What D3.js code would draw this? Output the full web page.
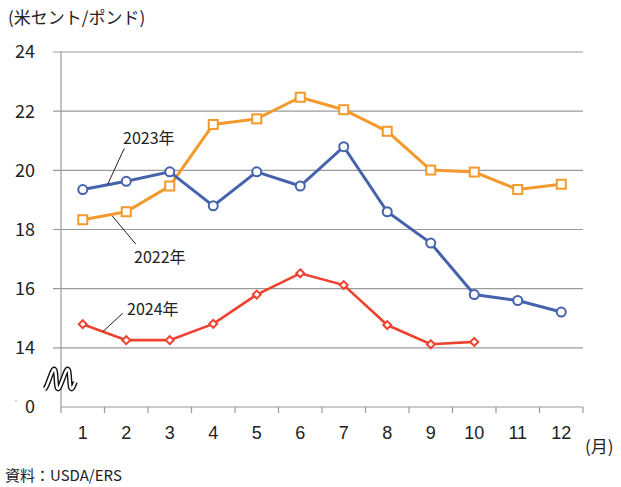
<!DOCTYPE html>
<html>
<head>
<meta charset="utf-8">
<script src="https://cdn.jsdelivr.net/npm/d3@7"></script>
<style>
  body { margin: 0; background: #fff; }
  text { font-family: "Liberation Sans Narrow", "Noto Sans CJK JP", sans-serif; fill: #222; }
</style>
</head>
<body>
<svg id="chart" width="621" height="487"></svg>
<script>
// data
var months = ['1','2','3','4','5','6','7','8','9','10','11','12'];
var y2022 = [18.33, 18.6, 19.47, 21.55, 21.74, 22.47, 22.05, 21.32, 20.01, 19.94, 19.35, 19.53];
var y2023 = [19.35, 19.63, 19.95, 18.8, 19.95, 19.47, 20.8, 18.6, 17.54, 15.8, 15.6, 15.21];
var y2024 = [14.8, 14.26, 14.26, 14.81, 15.8, 16.52, 16.12, 14.77, 14.12, 14.2];
var yTicks = [14, 16, 18, 20, 22, 24];

var svg = d3.select('#chart');
var plotL = 61, plotR = 583, plotT = 52, plotB = 407;

var x = d3.scaleBand().domain(months).range([plotL, plotR]);
// broken axis: the bottom of the plot stands for 0, drawn at the place of 12
var y = d3.scaleLinear().domain([12, 24]).range([plotB, plotT]);

// grid
svg.append('g').selectAll('line')
  .data(yTicks)
  .enter().append('line')
  .attr('x1', plotL - 8).attr('x2', plotR)
  .attr('y1', function(d) { return y(d); })
  .attr('y2', function(d) { return y(d); })
  .attr('stroke', '#9a9a9a').attr('stroke-width', 1.2);

// x axis
var xAxis = svg.append('g')
  .attr('transform', 'translate(0,' + plotB + ')')
  .call(d3.axisBottom(x).tickSize(0).tickPadding(19));
xAxis.select('.domain').attr('stroke', '#9a9a9a').attr('stroke-width', 1.2)
  .attr('d', 'M' + plotL + ',0H' + plotR);
xAxis.selectAll('text').style('font-size', '18px').attr('fill', '#222')
  .style('font-family', '"Liberation Sans Narrow", sans-serif');
svg.append('g').selectAll('line')
  .data(d3.range(13))
  .enter().append('line')
  .attr('x1', function(i) { return plotL + i * x.step(); })
  .attr('x2', function(i) { return plotL + i * x.step(); })
  .attr('y1', plotB).attr('y2', plotB + 6)
  .attr('stroke', '#9a9a9a').attr('stroke-width', 1.2);

// y axis line
svg.append('line')
  .attr('x1', plotL).attr('x2', plotL).attr('y1', plotT).attr('y2', plotB)
  .attr('stroke', '#9a9a9a').attr('stroke-width', 1.2);

svg.append('g').selectAll('text')
  .data(yTicks)
  .enter().append('text')
  .attr('x', 35).attr('y', function(d) { return y(d); })
  .attr('dy', '0.36em').attr('text-anchor', 'end')
  .style('font-size', '18px')
  .text(function(d) { return d; });
svg.append('text')
  .attr('x', 35).attr('y', y(12)).attr('dy', '0.36em').attr('text-anchor', 'end')
  .style('font-size', '18px').text('0');
svg.append('circle').attr('cx', 16).attr('cy', 401).attr('r', 0.8).attr('fill', '#999');

// break mark
var wave = [];
for (var t = 0; t <= 1.1001; t += 0.025) {
  var s = Math.sin(t * 4 * Math.PI - Math.PI / 2);
  wave.push([46 + 27 * t + 1.5 * s, 379 - 10 * s]);
}
var wavePath = d3.line().curve(d3.curveBasis)(wave);
svg.append('path').attr('d', wavePath).attr('fill', 'none')
  .attr('stroke', '#111').attr('stroke-width', 5.2);
svg.append('path').attr('d', wavePath).attr('fill', 'none')
  .attr('stroke', '#fff').attr('stroke-width', 2.4);

// series
var line = d3.line()
  .x(function(d, i) { return x(months[i]) + x.bandwidth() / 2; })
  .y(function(d) { return y(d); });

function cx(i) { return x(months[i]) + x.bandwidth() / 2; }

var c2022 = '#f4992b', c2023 = '#4563ad', c2024 = '#ee4230';

svg.append('path').datum(y2022).attr('d', line)
  .attr('fill', 'none').attr('stroke', c2022).attr('stroke-width', 3);
svg.append('path').datum(y2023).attr('d', line)
  .attr('fill', 'none').attr('stroke', c2023).attr('stroke-width', 3);
svg.append('path').datum(y2024).attr('d', line)
  .attr('fill', 'none').attr('stroke', c2024).attr('stroke-width', 2.6);

svg.append('g').selectAll('rect')
  .data(y2022)
  .enter().append('rect')
  .attr('x', function(d, i) { return cx(i) - 4.5; })
  .attr('y', function(d) { return y(d) - 4.5; })
  .attr('width', 9).attr('height', 9)
  .attr('fill', '#fff').attr('stroke', c2022).attr('stroke-width', 2);

svg.append('g').selectAll('circle')
  .data(y2023)
  .enter().append('circle')
  .attr('cx', function(d, i) { return cx(i); })
  .attr('cy', function(d) { return y(d); })
  .attr('r', 4.5)
  .attr('fill', '#fff').attr('stroke', c2023).attr('stroke-width', 2);

svg.append('g').selectAll('path')
  .data(y2024)
  .enter().append('path')
  .attr('d', d3.symbol().type(d3.symbolDiamond2).size(40))
  .attr('transform', function(d, i) { return 'translate(' + cx(i) + ',' + y(d) + ')'; })
  .attr('fill', '#fff').attr('stroke', c2024).attr('stroke-width', 2);

// labels with leader lines
var notes = [
  { text: '2023年', x: 123, y: 138, l: [124.3, 148.3, 107.7, 184.3] },
  { text: '2022年', x: 134, y: 257, l: [112.3, 216, 135.7, 244] },
  { text: '2024年', x: 127, y: 309, l: [122.7, 313.3, 102.7, 331.7] }
];
notes.forEach(function(n) {
  svg.append('line')
    .attr('x1', n.l[0]).attr('y1', n.l[1]).attr('x2', n.l[2]).attr('y2', n.l[3])
    .attr('stroke', '#222').attr('stroke-width', 1);
  svg.append('text').attr('x', n.x).attr('y', n.y).attr('dy', '0.36em')
    .style('font-size', '16px').text(n.text);
});

svg.append('text').attr('x', 8).attr('y', 18).attr('dy', '0.36em')
  .style('font-size', '17px').style('font-family', '"Noto Sans CJK JP", sans-serif')
  .text('(米セント/ポンド)');
svg.append('text').attr('x', 585).attr('y', 447).attr('dy', '0.36em')
  .style('font-size', '17px').style('font-family', '"Noto Sans CJK JP", sans-serif')
  .text('(月)');
svg.append('text').attr('x', 5).attr('y', 476).attr('dy', '0.36em')
  .style('font-size', '15px')
  .text('資料：USDA/ERS');
</script>
</body>
</html>
